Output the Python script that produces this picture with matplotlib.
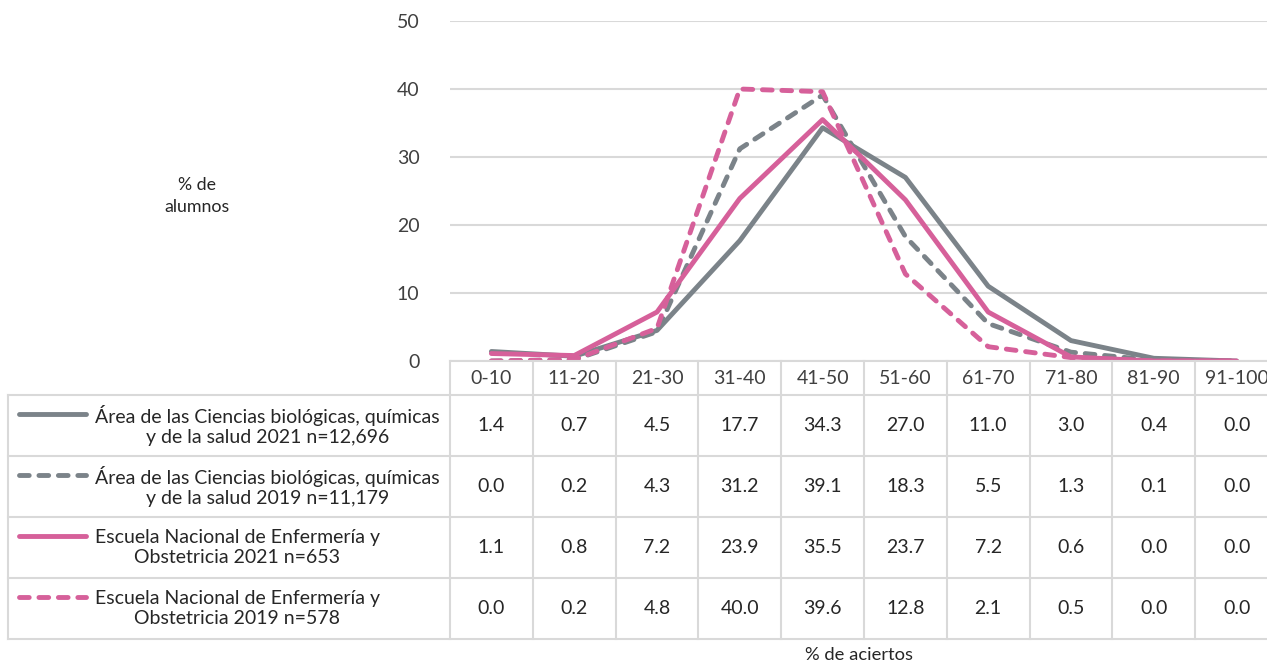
import matplotlib
matplotlib.use("Agg")
import matplotlib.pyplot as plt
from matplotlib.lines import Line2D

plt.rcParams['font.family'] = ['Lato', 'DejaVu Sans']

categories = ['0-10', '11-20', '21-30', '31-40', '41-50', '51-60', '61-70', '71-80', '81-90', '91-100']
area_2021 = [1.4, 0.7, 4.5, 17.7, 34.3, 27.0, 11.0, 3.0, 0.4, 0.0]
area_2019 = [0.0, 0.2, 4.3, 31.2, 39.1, 18.3, 5.5, 1.3, 0.1, 0.0]
enfermeria_2021 = [1.1, 0.8, 7.2, 23.9, 35.5, 23.7, 7.2, 0.6, 0.0, 0.0]
enfermeria_2019 = [0.0, 0.2, 4.8, 40.0, 39.6, 12.8, 2.1, 0.5, 0.0, 0.0]
series_labels = [
    'Área de las Ciencias biológicas, químicas\ny de la salud 2021 n=12,696',
    'Área de las Ciencias biológicas, químicas\ny de la salud 2019 n=11,179',
    'Escuela Nacional de Enfermería y\nObstetricia 2021 n=653',
    'Escuela Nacional de Enfermería y\nObstetricia 2019 n=578',
]
yticks = [0, 10, 20, 30, 40, 50]

GRAY = '#7b8389'
PINK = '#d6609a'
GRID = '#d9d9d9'
series = [
    (area_2021, GRAY, '-'),
    (area_2019, GRAY, '--'),
    (enfermeria_2021, PINK, '-'),
    (enfermeria_2019, PINK, '--'),
]

W, H = 1267, 664
fig = plt.figure(figsize=(W / 100, H / 100), dpi=100)


def fx(px):
    return px / W


def fy(py):
    return 1 - py / H


# layout in pixels (the table runs a little past the right edge, as in the original)
plot_left = 450
col_w = 82.8
plot_right = plot_left + col_w * len(categories)
plot_top, plot_bottom = 21, 361
legend_left = 8
row_lines = [361, 395, 456, 517, 578, 639]
LW = 3.5
DASH = (2.0, 2.0)
FS = 14

ax = fig.add_axes([fx(plot_left), fy(plot_bottom), (plot_right - plot_left) / W,
                   (plot_bottom - plot_top) / H])
for vals, color, ls in series:
    line, = ax.plot(range(len(categories)), vals, color=color, lw=LW, linestyle=ls,
                    solid_capstyle='round', dash_capstyle='round')
    if ls == '--':
        line.set_dashes(DASH)
ax.set_xlim(-0.5, len(categories) - 0.5)
ax.set_ylim(0, 50)
ax.set_yticks(yticks)
ax.set_xticks([])
ax.tick_params(axis='y', length=0, pad=22, labelsize=FS, labelcolor='#404040')
ax.grid(axis='y', color=GRID, lw=1.5)
ax.set_axisbelow(True)
for s in ax.spines.values():
    s.set_visible(False)
ax.patch.set_alpha(0)

fig.text(fx(197), fy(196), '% de\nalumnos', ha='center', va='center', fontsize=12.8,
         color='#262626', linespacing=1.5)
fig.text(fx(859), fy(655), '% de aciertos', ha='center', va='center', fontsize=13.2,
         color='#262626')


# table grid
def hline(y, x0, x1):
    fig.add_artist(Line2D([fx(x0), fx(x1)], [fy(y), fy(y)], color=GRID, lw=1.5))


def vline(x, y0, y1):
    fig.add_artist(Line2D([fx(x), fx(x)], [fy(y0), fy(y1)], color=GRID, lw=1.5))


hline(row_lines[0], plot_left, plot_right)
for y in row_lines[1:]:
    hline(y, legend_left, plot_right)
vline(legend_left, row_lines[1], row_lines[-1])
for i in range(len(categories) + 1):
    vline(plot_left + i * col_w, row_lines[0], row_lines[-1])

# header
hy = (row_lines[0] + row_lines[1]) / 2
for i, cat in enumerate(categories):
    fig.text(fx(plot_left + (i + 0.5) * col_w), fy(hy), cat, ha='center', va='center',
             fontsize=FS, color='#404040')

# rows
for r, ((vals, color, ls), label) in enumerate(zip(series, series_labels)):
    y0, y1 = row_lines[r + 1], row_lines[r + 2]
    yc = (y0 + y1) / 2
    key_y = yc - 12
    key = Line2D([fx(19), fx(86)], [fy(key_y), fy(key_y)], color=color, lw=LW,
                 linestyle=ls, solid_capstyle='round', dash_capstyle='round')
    if ls == '--':
        key.set_dashes(DASH)
    fig.add_artist(key)
    fig.text(fx(95), fy(yc), label, ha='left', va='center', multialignment='center',
             fontsize=FS, color='#262626', linespacing=1.25)
    for i, v in enumerate(vals):
        fig.text(fx(plot_left + (i + 0.5) * col_w), fy(yc), f'{v:.1f}', ha='center',
                 va='center', fontsize=FS, color='#262626')

fig.savefig('out.png', dpi=100)
